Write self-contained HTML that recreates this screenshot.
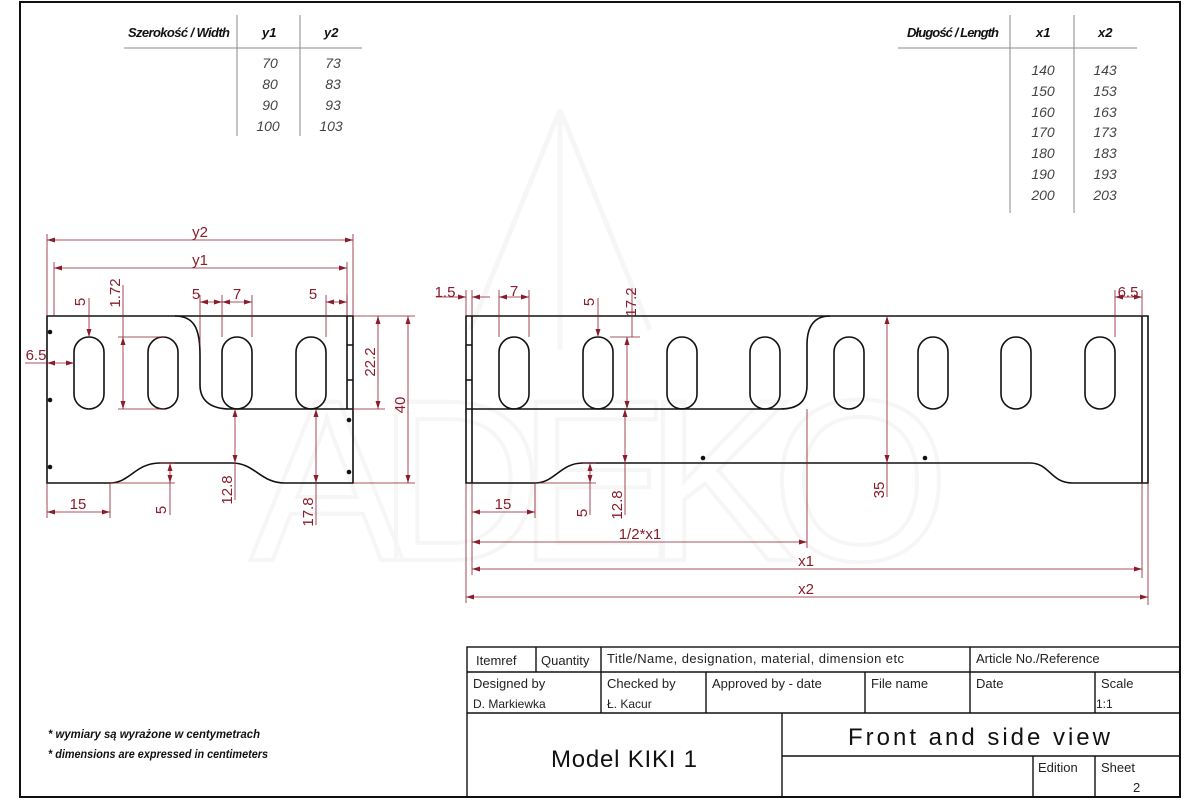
<!DOCTYPE html>
<html><head><meta charset="utf-8"><style>
html,body{margin:0;padding:0;background:#fff;}
svg{display:block;}
text{font-family:"Liberation Sans",sans-serif;}
.d{fill:#8a1c2b;font-size:15px;}
.t{fill:#222;font-size:13px;}
.tab{fill:#444;font-size:14px;font-style:italic;}
</style></head><body>
<svg width="1200" height="800" viewBox="0 0 1200 800" xmlns="http://www.w3.org/2000/svg">
<defs>
<marker id="a" markerWidth="8" markerHeight="6" refX="8" refY="3" orient="auto-start-reverse" markerUnits="userSpaceOnUse">
<path d="M0,0.5 L8,3 L0,5.5 Z" fill="#8a1c2b"/></marker>
</defs>
<rect x="0" y="0" width="1200" height="800" fill="#fff"/>
<!-- watermark -->
<g fill="none" stroke="#f6f6f6" stroke-width="5">
<text x="250" y="560" font-size="230" fill="none" stroke="#f6f6f6" stroke-width="4" textLength="700" font-family="Liberation Sans">ADEKO</text>
<path d="M560,110 L470,330 M560,110 L650,330 M560,110 V350"/>
</g>
<!-- frame -->
<rect x="20" y="2" width="1160" height="795" fill="none" stroke="#111" stroke-width="2"/>

<g stroke="#888" stroke-width="1">
<line x1="124" y1="48" x2="362" y2="48"/>
<line x1="237" y1="15" x2="237" y2="136"/>
<line x1="300" y1="15" x2="300" y2="136"/>
<line x1="898" y1="48" x2="1137" y2="48"/>
<line x1="1010" y1="15" x2="1010" y2="213"/>
<line x1="1074" y1="15" x2="1074" y2="213"/>
</g>
<g font-weight="bold" font-style="italic" font-size="13" fill="#111">
<text x="128" y="37" textLength="102">Szerokość / Width</text>
<text x="262" y="37">y1</text><text x="324" y="37">y2</text>
<text x="907" y="37" textLength="92">Długość / Length</text>
<text x="1036" y="37">x1</text><text x="1098" y="37">x2</text>
</g>
<g class="tab" text-anchor="middle">
<text x="270" y="68">70</text><text x="333" y="68">73</text>
<text x="270" y="89">80</text><text x="333" y="89">83</text>
<text x="270" y="110">90</text><text x="333" y="110">93</text>
<text x="268" y="131">100</text><text x="331" y="131">103</text>
<text x="1043" y="75">140</text><text x="1105" y="75">143</text>
<text x="1043" y="96">150</text><text x="1105" y="96">153</text>
<text x="1043" y="117">160</text><text x="1105" y="117">163</text>
<text x="1043" y="137">170</text><text x="1105" y="137">173</text>
<text x="1043" y="158">180</text><text x="1105" y="158">183</text>
<text x="1043" y="179">190</text><text x="1105" y="179">193</text>
<text x="1043" y="200">200</text><text x="1105" y="200">203</text>
</g>

<!-- LEFT DRAWING -->
<g fill="none" stroke="#111" stroke-width="1.6">
<path d="M47,316 H353 V483 H285 C260,483 255,463 232,463 H160 C135,463 130,483 110,483 H47 Z"/>
<path d="M175,316 C195,316 200,330 200,355 V385 C200,400 210,409 230,409 H353"/>
<path d="M347,316 V409 M347,345 H353 M347,380 H353"/>
<rect x="74" y="337" width="30" height="72" rx="15"/>
<rect x="148" y="337" width="30" height="72" rx="15"/>
<rect x="222" y="337" width="30" height="72" rx="15"/>
<rect x="296" y="337" width="30" height="72" rx="15"/>
</g>
<g fill="#111"><circle cx="50" cy="332" r="2.3"/><circle cx="50" cy="400" r="2.3"/><circle cx="50" cy="467" r="2.3"/><circle cx="349" cy="420" r="2.3"/><circle cx="349" cy="472" r="2.3"/></g>

<g stroke="#8a1c2b" stroke-width="0.8" fill="none">
<path d="M47,234 V316 M54,262 V316 M347,262 V316 M353,234 V316"/>
<line x1="47" y1="240" x2="353" y2="240" marker-start="url(#a)" marker-end="url(#a)"/>
<line x1="54" y1="268" x2="347" y2="268" marker-start="url(#a)" marker-end="url(#a)"/>
<line x1="89" y1="298" x2="89" y2="337" marker-end="url(#a)"/>
<path d="M123,285 V337 M118,337 H165 M118,409 H165"/>
<line x1="123" y1="337" x2="123" y2="409" marker-start="url(#a)" marker-end="url(#a)"/>
<path d="M200,295 V345 M222,295 V337 M252,295 V337 M326,295 V337 M347,295 V316"/>
<line x1="200" y1="302" x2="222" y2="302" marker-start="url(#a)" marker-end="url(#a)"/>
<line x1="222" y1="302" x2="252" y2="302" marker-start="url(#a)" marker-end="url(#a)"/>
<line x1="326" y1="302" x2="347" y2="302" marker-start="url(#a)" marker-end="url(#a)"/>
<path d="M25,363 H47"/>
<line x1="47" y1="363" x2="74" y2="363" marker-start="url(#a)" marker-end="url(#a)"/>
<path d="M353,316 H415 M353,409 H385 M353,483 H415"/>
<line x1="378" y1="316" x2="378" y2="409" marker-start="url(#a)" marker-end="url(#a)"/>
<line x1="408" y1="316" x2="408" y2="483" marker-start="url(#a)" marker-end="url(#a)"/>
<line x1="235" y1="409" x2="235" y2="463" marker-start="url(#a)" marker-end="url(#a)"/>
<path d="M235,463 V500"/>
<line x1="316" y1="409" x2="316" y2="483" marker-start="url(#a)" marker-end="url(#a)"/>
<path d="M316,483 V525"/>
<path d="M160,463 H175 M110,483 H175 M170,483 V515"/>
<line x1="170" y1="463" x2="170" y2="483" marker-start="url(#a)" marker-end="url(#a)"/>
<path d="M47,483 V518 M110,483 V518"/>
<line x1="47" y1="512" x2="110" y2="512" marker-start="url(#a)" marker-end="url(#a)"/>
</g>
<g class="d" text-anchor="middle">
<text x="200" y="237">y2</text>
<text x="200" y="265">y1</text>
<text x="196" y="299">5</text><text x="237" y="299">7</text><text x="313" y="299">5</text>
<text x="36" y="360">6.5</text>
<text x="78" y="509">15</text>
<text transform="translate(85,302) rotate(-90)">5</text>
<text transform="translate(120,293) rotate(-90)">1.72</text>
<text transform="translate(375,362) rotate(-90)">22.2</text>
<text transform="translate(405,405) rotate(-90)">40</text>
<text transform="translate(232,490) rotate(-90)">12.8</text>
<text transform="translate(313,512) rotate(-90)">17.8</text>
<text transform="translate(166,510) rotate(-90)">5</text>
</g>

<!-- RIGHT DRAWING -->
<g fill="none" stroke="#111" stroke-width="1.6">
<path d="M466,316 H1148 V483 H1073 C1050,483 1050,463 1030,463 H583 C560,463 555,483 535,483 H466 Z"/>
<path d="M472,316 V483 M466,345 H472 M466,380 H472 M466,409 H780 C800,409 807,400 807,385 V345 C807,325 815,316 830,316"/>
<path d="M1142,316 V483"/>
<rect x="499" y="337" width="30" height="72" rx="15"/>
<rect x="583" y="337" width="30" height="72" rx="15"/>
<rect x="667" y="337" width="30" height="72" rx="15"/>
<rect x="750" y="337" width="30" height="72" rx="15"/>
<rect x="834" y="337" width="30" height="72" rx="15"/>
<rect x="918" y="337" width="30" height="72" rx="15"/>
<rect x="1001" y="337" width="30" height="72" rx="15"/>
<rect x="1085" y="337" width="30" height="72" rx="15"/>
</g>
<g fill="#111"><circle cx="703" cy="458" r="2.3"/><circle cx="925" cy="458" r="2.3"/></g>
<g stroke="#8a1c2b" stroke-width="0.8" fill="none">
<path d="M466,290 V316 M472,290 V316 M499,290 V337 M529,290 V337 M1115,290 V337 M1142,290 V316"/>
<line x1="436" y1="297" x2="466" y2="297" marker-end="url(#a)"/>
<line x1="490" y1="297" x2="472" y2="297" marker-end="url(#a)"/>
<line x1="499" y1="297" x2="529" y2="297" marker-start="url(#a)" marker-end="url(#a)"/>
<line x1="1115" y1="297" x2="1142" y2="297" marker-start="url(#a)" marker-end="url(#a)"/>
<line x1="598" y1="298" x2="598" y2="337" marker-end="url(#a)"/>
<path d="M632,288 V337 M610,337 H640"/>
<line x1="627" y1="337" x2="627" y2="409" marker-start="url(#a)" marker-end="url(#a)"/>
<line x1="887" y1="316" x2="887" y2="463" marker-start="url(#a)" marker-end="url(#a)"/>
<path d="M887,463 V497"/>
<line x1="625" y1="409" x2="625" y2="463" marker-start="url(#a)" marker-end="url(#a)"/>
<path d="M625,463 V515"/>
<path d="M583,463 H596 M590,483 V515 M535,483 H596"/>
<line x1="590" y1="463" x2="590" y2="483" marker-start="url(#a)" marker-end="url(#a)"/>
<path d="M466,483 V603 M472,483 V575 M535,483 V518 M807,409 V548 M1142,483 V578 M1148,483 V605"/>
<line x1="472" y1="512" x2="535" y2="512" marker-start="url(#a)" marker-end="url(#a)"/>
<line x1="472" y1="542" x2="807" y2="542" marker-start="url(#a)" marker-end="url(#a)"/>
<line x1="472" y1="569" x2="1142" y2="569" marker-start="url(#a)" marker-end="url(#a)"/>
<line x1="466" y1="597" x2="1148" y2="597" marker-start="url(#a)" marker-end="url(#a)"/>
</g>
<g class="d" text-anchor="middle">
<text x="445" y="297">1.5</text><text x="514" y="296">7</text><text x="1128" y="297">6.5</text>
<text x="503" y="509">15</text>
<text x="640" y="539">1/2*x1</text>
<text x="806" y="566">x1</text>
<text x="806" y="594">x2</text>
<text transform="translate(594,302) rotate(-90)">5</text>
<text transform="translate(636,302) rotate(-90)">17.2</text>
<text transform="translate(884,490) rotate(-90)">35</text>
<text transform="translate(622,505) rotate(-90)">12.8</text>
<text transform="translate(587,513) rotate(-90)">5</text>
</g>

<!-- notes -->
<g font-weight="bold" font-style="italic" font-size="12" fill="#111">
<text x="48" y="738" textLength="212" lengthAdjust="spacingAndGlyphs">* wymiary są wyrażone w centymetrach</text>
<text x="48" y="758" textLength="220" lengthAdjust="spacingAndGlyphs">* dimensions are expressed in centimeters</text>
</g>

<!-- title block -->
<g fill="none" stroke="#111" stroke-width="1.4">
<rect x="467" y="647" width="713" height="150"/>
<path d="M467,672 H1180 M467,713 H1180 M536,647 V672 M601,647 V713 M970,647 V713 M706,672 V713 M865,672 V713 M1095,672 V713 M782,713 V797 M782,756 H1180 M1033,756 V797 M1095,756 V797"/>
</g>
<g class="t">
<text x="476" y="665">Itemref</text><text x="541" y="665">Quantity</text>
<text x="607" y="663" textLength="297">Title/Name, designation, material, dimension etc</text>
<text x="976" y="663">Article No./Reference</text>
<text x="473" y="688">Designed by</text><text x="473" y="708" font-size="12">D. Markiewka</text>
<text x="607" y="688">Checked by</text><text x="607" y="708" font-size="12">Ł. Kacur</text>
<text x="712" y="688">Approved by - date</text>
<text x="871" y="688">File name</text>
<text x="976" y="688">Date</text>
<text x="1101" y="688">Scale</text><text x="1096" y="708" font-size="12">1:1</text>
<text x="1038" y="772">Edition</text><text x="1101" y="772">Sheet</text><text x="1133" y="792">2</text>
</g>
<text x="624" y="767" font-size="24" fill="#111" text-anchor="middle" textLength="146">Model KIKI 1</text>
<text x="979" y="745" font-size="24" fill="#111" text-anchor="middle" textLength="262">Front and  side  view</text>
</svg>
</body></html>
